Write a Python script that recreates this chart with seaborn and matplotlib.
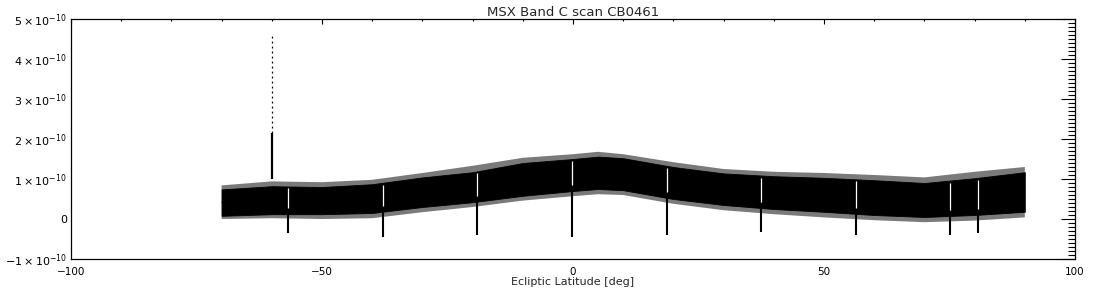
import numpy as np
import pandas as pd
import matplotlib
matplotlib.use("Agg")
import matplotlib.pyplot as plt
from matplotlib.ticker import MultipleLocator
import seaborn as sns

# ---- data (values in units of 1e-10) ----
lat = [-70, -60, -50, -40, -30, -20, -10, 0, 5, 10, 20, 30, 40, 50, 60, 70, 80, 90]
core_lo = [0.08, 0.12, 0.12, 0.15, 0.30, 0.42, 0.58, 0.70, 0.75, 0.72, 0.50, 0.35, 0.25, 0.18, 0.10, 0.05, 0.10, 0.18]
core_hi = [0.74, 0.82, 0.80, 0.87, 1.04, 1.17, 1.40, 1.50, 1.56, 1.52, 1.30, 1.14, 1.07, 1.03, 0.97, 0.90, 1.02, 1.17]
fringe_lo = [0.00, 0.02, 0.00, 0.02, 0.17, 0.30, 0.46, 0.57, 0.62, 0.60, 0.38, 0.22, 0.12, 0.04, -0.03, -0.08, -0.04, 0.04]
fringe_hi = [0.84, 0.94, 0.92, 0.98, 1.15, 1.33, 1.53, 1.62, 1.68, 1.62, 1.42, 1.25, 1.18, 1.15, 1.10, 1.04, 1.18, 1.30]

dip_lat = [-56.8, -37.9, -19.1, -0.2, 18.7, 37.5, 56.4, 75.1, 80.7]
dip_min = [-0.35, -0.45, -0.40, -0.44, -0.40, -0.32, -0.40, -0.40, -0.35]

peak_lat = -60.0
peak_dense = [1.0, 2.15]
peak_max = 4.65

yticks = [-1, 0, 1, 2, 3, 4, 5]
ytick_labels = [r"$-1\times10^{-10}$", "0", r"$1\times10^{-10}$", r"$2\times10^{-10}$",
                r"$3\times10^{-10}$", r"$4\times10^{-10}$", r"$5\times10^{-10}$"]
xticks = [-100, -50, 0, 50, 100]
xtick_labels = ["\u2212100", "\u221250", "0", "50", "100"]

title = "MSX Band C scan CB0461"
xlabel = "Ecliptic Latitude [deg]"

S = 1e-10

sns.set_style("white")
plt.rcParams["font.family"] = ["DejaVu Sans"]
plt.rcParams["mathtext.fontset"] = "dejavusans"

fig = plt.figure(figsize=(11, 3), dpi=100)
ax = fig.add_axes([71 / 1100, 41 / 300, 1004 / 1100, 240 / 300])

lat_a = np.array(lat)
# sparse fringe of scattered samples
ax.fill_between(lat_a, np.array(fringe_lo) * S, np.array(fringe_hi) * S,
                facecolor="#7a7a7a", edgecolor="none", linewidth=0)

# dense core of the scan: seaborn min-max band
long = pd.DataFrame({
    "lat": lat + lat,
    "val": [v * S for v in core_lo] + [v * S for v in core_hi],
})
sns.lineplot(data=long, x="lat", y="val", estimator="mean", errorbar=("pi", 100),
             color="black", linewidth=0.5, ax=ax,
             err_kws={"alpha": 1.0, "facecolor": "black", "edgecolor": "black", "linewidth": 0.6})

# detector dips: white gap in band, black spike below
for dl, dm in zip(dip_lat, dip_min):
    i_lo = float(np.interp(dl, lat, core_lo))
    i_hi = float(np.interp(dl, lat, core_hi))
    ax.vlines(dl, (i_lo + 0.15) * S, (i_hi - 0.05) * S, color="white", linewidth=0.9)
    ax.vlines(dl, dm * S, (i_lo + 0.1) * S, color="black", linewidth=1.5)

# bright source spike
ax.vlines(peak_lat, peak_dense[0] * S, peak_dense[1] * S, color="black", linewidth=1.6)
ax.vlines(peak_lat, peak_dense[1] * S, peak_max * S, color="black", linewidth=0.9,
          linestyles=(0, (1.5, 2.5)))

ax.set_xlim(-100, 100)
ax.set_ylim(-1 * S, 5 * S)
ax.set_xticks(xticks)
ax.set_xticklabels(xtick_labels)
ax.set_yticks([t * S for t in yticks])
ax.set_yticklabels(ytick_labels)
ax.xaxis.set_minor_locator(MultipleLocator(10))
ax.yaxis.set_minor_locator(MultipleLocator(0.1 * S))

ax.tick_params(axis="both", which="both", direction="in", top=True, right=True,
               colors="black", width=0.8)
ax.tick_params(axis="x", which="major", length=3.4, pad=6, labelsize=7.5)
ax.tick_params(axis="x", which="minor", length=1.7)
ax.tick_params(axis="y", which="major", length=10, pad=3, labelsize=8)
ax.tick_params(axis="y", which="minor", length=5)

for sp in ax.spines.values():
    sp.set_visible(True)
    sp.set_color("black")
    sp.set_linewidth(0.9)

ax.set_title(title, fontsize=9.5, pad=2)
ax.set_xlabel(xlabel, fontsize=8, labelpad=0)
ax.set_ylabel("")

fig.savefig("out.png", dpi=100, facecolor="white")
